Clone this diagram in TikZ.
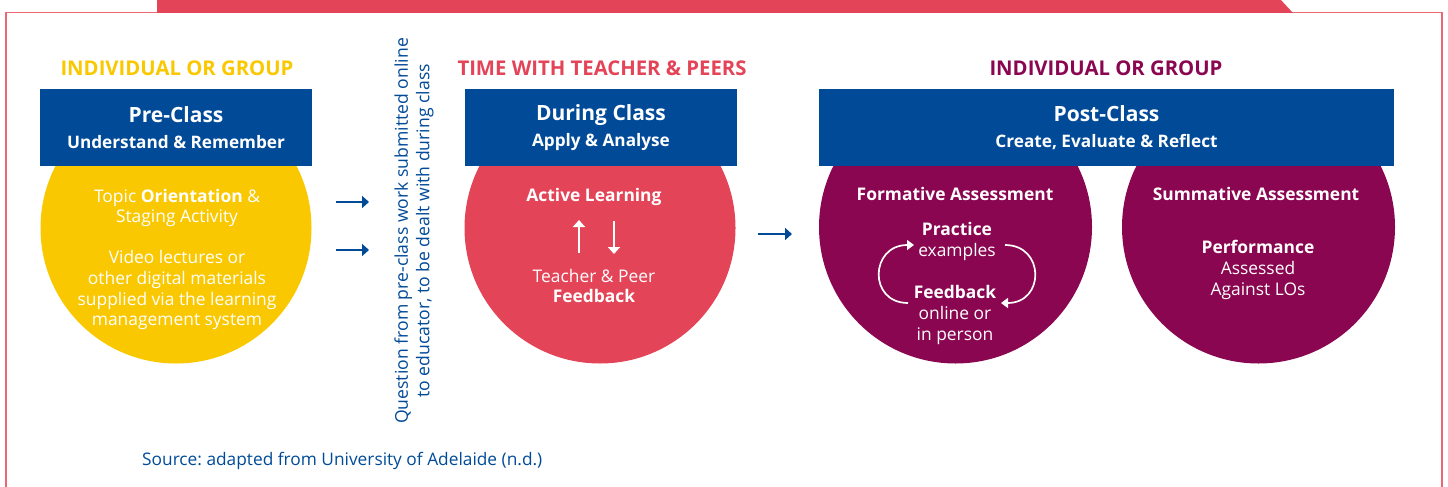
\documentclass[tikz,border=0pt]{standalone}
\usepackage{fontspec}
\setmainfont{Open Sans}
\usetikzlibrary{arrows.meta}
\definecolor{uablue}{HTML}{004A98}
\definecolor{uared}{HTML}{E34457}
\definecolor{uayellow}{HTML}{FAC800}
\definecolor{uapurple}{HTML}{8A0650}
\definecolor{uaframe}{HTML}{EC6673}
\tikzset{
  >={Triangle[length=7pt,width=12pt]},
  heading/.style = {anchor=base, font=\bfseries\fontsize{20.3}{24}\selectfont},
  phase/.style = {fill=uablue, text=white, minimum height=77pt, inner sep=0pt,
    align=center, font=\bfseries\fontsize{17.2}{26}\selectfont},
  blob/.style = {circle, minimum size=271pt, inner sep=0pt},
  intext/.style = {anchor=base, text=white, align=center, inner sep=0pt,
    font=\fontsize{17.4}{20.6}\selectfont},
  boldtext/.style = {intext, font=\bfseries\fontsize{17.4}{20.6}\selectfont},
  flow/.style = {->, uablue, line width=2pt},
  loop/.style = {->, white, line width=1.7pt, >={Triangle[length=7pt,width=10pt]}}
}
\newcommand{\ptitle}[1]{{\fontsize{21}{26}\selectfont #1}}
\frenchspacing

\begin{document}
\begin{tikzpicture}[x=1pt,y=-1pt]
  \useasboundingbox (0,0) rectangle (1448,487);
  \draw[uaframe,line width=1.5pt] (6,490) -- (6,12.5) -- (1442,12.5) -- (1442,490);
  \fill[uared] (157,-1) -- (157,13) -- (1293,13) -- (1280,-1) -- cycle;

  \node[heading,text=uayellow] (h1) at (177,75) {INDIVIDUAL OR GROUP};
  \node[heading,text=uared] (h2) at (602,75) {TIME WITH TEACHER \& PEERS};
  \node[heading,text=uapurple] (h3) at (1106,76) {INDIVIDUAL OR GROUP};

  \node[blob,fill=uayellow] (c1) at (176,228) {};
  \node[blob,fill=uared] (c2) at (600,228) {};
  \node[blob,fill=uapurple,minimum size=273pt] (c3) at (955.5,227) {};
  \node[blob,fill=uapurple,minimum size=273pt] (c4) at (1258.5,227) {};

  \node[phase,minimum width=272pt] (pre) at (176,127.5)
    {\ptitle{Pre-Class}\\Understand \& Remember};
  \node[phase,minimum width=272pt] (during) at (601,127.5)
    {\ptitle{During Class}\\Apply \& Analyse};
  \node[phase,minimum width=575pt] (post) at (1106.5,127.5)
    {\ptitle{Post-Class}\\Create, Evaluate \& Reflect};

  \node[intext] (orient) at (177,325.7)
    {Topic \textbf{Orientation} \&\\Staging Activity\\[20.6pt]Video lectures or\\
     other digital materials\\supplied via the learning\\management system};

  \node[boldtext] (active) at (594,201) {Active Learning};
  \node[intext] (peer) at (594,302.7) {Teacher \& Peer\\\textbf{Feedback}};
  \coordinate (ua) at (579,253);
  \coordinate (ub) at (579,220);
  \coordinate (da) at (614,221);
  \coordinate (db) at (614,254);
  \draw[loop,line width=2pt,>={Triangle[length=7pt,width=12pt]}] (ua) -- (ub);
  \draw[loop,line width=2pt,>={Triangle[length=7pt,width=12pt]}] (da) -- (db);

  \node[boldtext] (form) at (955,200.7) {Formative Assessment};
  \node[intext] (prac) at (957,256) {\textbf{Practice}\\examples};
  \node[intext] (fback) at (955,340) {\textbf{Feedback}\\online or\\in person};
  \coordinate (la) at (908,303);
  \coordinate (lb) at (914,245);
  \coordinate (ra) at (1005,245);
  \coordinate (rb) at (1001,303);
  \draw[loop] (la) .. controls +(-40,0) and +(-44,0) .. (lb);
  \draw[loop] (ra) .. controls +(40,0) and +(44,0) .. (rb);

  \node[boldtext] (summ) at (1256,200.7) {Summative Assessment};
  \node[intext] (perf) at (1258,295) {\textbf{Performance}\\Assessed\\Against LOs};

  \coordinate (a1) at (336,202);
  \coordinate (b1) at (369,202);
  \coordinate (a2) at (336,250);
  \coordinate (b2) at (369,250);
  \coordinate (a3) at (758,234);
  \coordinate (b3) at (792,234);
  \draw[flow] (a1) -- (b1);
  \draw[flow] (a2) -- (b2);
  \draw[flow] (a3) -- (b3);

  \node[rotate=90,text=uablue,align=center,font=\fontsize{17.6}{21.5}\selectfont] (note) at (414,231)
    {Question from pre-class work submitted online\\to educator, to be dealt with during class};

  \node[anchor=base west,text=uablue,inner sep=0pt,font=\fontsize{17.3}{20}\selectfont] (src) at (142,465)
    {Source: adapted from University of Adelaide (n.d.)};
\end{tikzpicture}
\end{document}
